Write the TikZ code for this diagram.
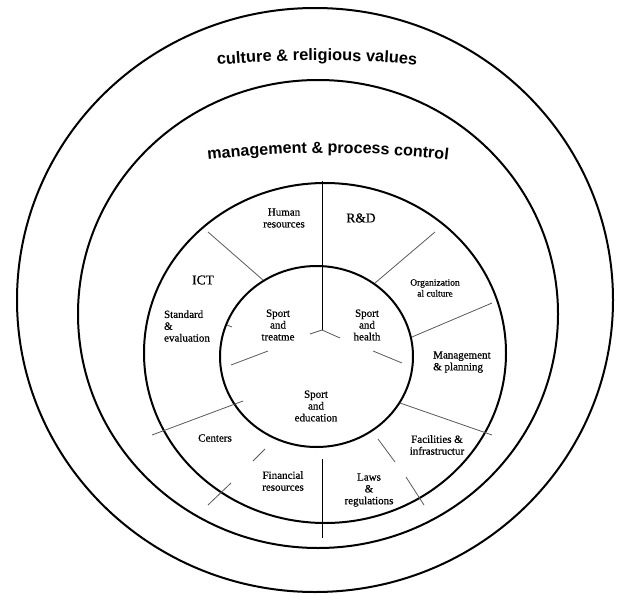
\documentclass[tikz,border=0pt]{standalone}
\usepackage{fontspec}
\setmainfont{Liberation Serif}[FakeBold=0.6]
\newfontfamily\arcfont{Liberation Sans}
\usetikzlibrary{decorations.text}
\tikzset{
  ring/.style={line width=2pt, black},
  spoke/.style={line width=0.8pt, black!65},
  vline/.style={line width=1pt, black},
  lbl/.style={inner sep=0pt, align=center, font=\fontsize{11}{11.8}\selectfont},
  lbll/.style={lbl, align=left},
  bigl/.style={inner sep=0pt, font=\fontsize{13.5}{14}\selectfont},
  smalll/.style={lbl, font=\fontsize{9.5}{11}\selectfont},
}
\begin{document}
\begin{tikzpicture}[x=1pt,y=-1pt]
\useasboundingbox (0,0) rectangle (621,594);
% circles
\draw[ring] (315,300) ellipse [x radius=298, y radius=292];
\draw[ring] (318,314) ellipse [x radius=240, y radius=234];
\draw[ring] (325,353) ellipse [x radius=181, y radius=170];
\draw[ring] (316.5,356.5) ellipse [x radius=96.5, y radius=90.5];
% spokes in the ring
\draw[spoke] (208,232) -- (263,280);
\draw[spoke] (435,232) -- (375,283);
\draw[spoke] (492,303) -- (412,337);
\draw[spoke] (400,403) -- (492,435);
\draw[spoke] (378,439) -- (395,462);
\draw[spoke] (406,477) -- (424,505);
\draw[spoke] (265,449) -- (253,461);
\draw[spoke] (231,483) -- (208,505);
\draw[spoke] (243,401) -- (152,435);
\draw[spoke] (227,325) -- (232,327);
% centre Y
\draw[vline] (322,181) -- (322,330);
\draw[spoke] (322,330) -- (310,334);
\draw[spoke] (322,330) -- (340,338);
\draw[spoke] (268,351) -- (231,365);
\draw[spoke] (373,351) -- (402,363);
\draw[vline] (322,459) -- (322,538);
% arched titles
\path[decorate, decoration={text along path, text align=center,
  text={|\arcfont\bfseries\fontsize{16.4}{18}\selectfont|culture {\&} religious values}}]
  (200,66.5) .. controls (278,58.5) and (356,58.5) .. (434,66.5);
\path[decorate, decoration={text along path, text align=center,
  text={|\arcfont\bfseries\fontsize{16.1}{18}\selectfont|management {\&} process control}}]
  (188,162.5) .. controls (281.3,149.8) and (374.7,149.8) .. (468,162.5);
% labels
\node[lbl] (hr) at (284,218) {Human\\resources};
\node[bigl] (ict) at (203,280) {ICT};
\node[lbll] (se) at (187,326) {Standard\\\&\\evaluation};
\node[lbl] (st) at (278,325) {Sport\\and\\treatme};
\node[bigl] (rd) at (361,218) {R\&D};
\node[smalll] (oc) at (435,288) {Organization\\al culture};
\node[lbl] (sh) at (367,325) {Sport\\and\\health};
\node[lbll, anchor=west] (mp) at (433,362) {Management\\\& planning};
\node[lbl] (sed) at (316,406) {Sport\\and\\education};
\node[lbl] (ce) at (215,438) {Centers};
\node[lbl] (fr) at (283,481) {Financial\\resources};
\node[lbl] (fi) at (437,445) {Facilities \&\\infrastructur};
\node[lbl] (lr) at (369,490) {Laws\\\&\\regulations};
\end{tikzpicture}
\end{document}
